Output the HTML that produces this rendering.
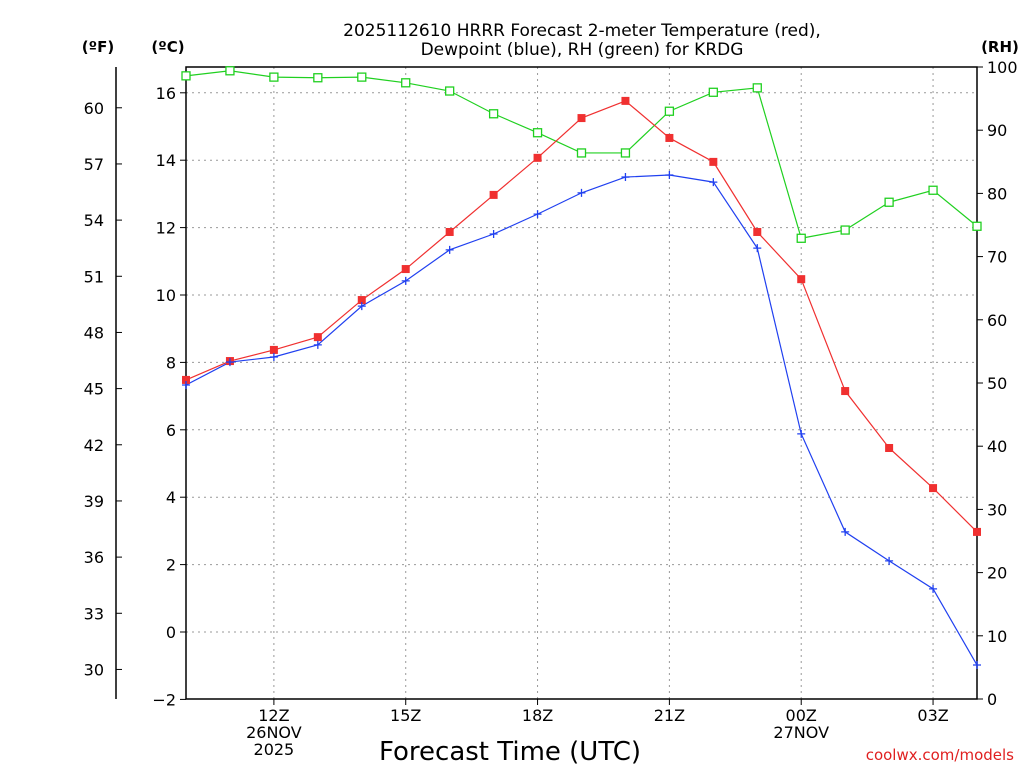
<!DOCTYPE html>
<html><head><meta charset="utf-8"><style>
body{margin:0;background:#fff;}
svg{display:block;font-family:"DejaVu Sans","Liberation Sans",sans-serif;}
</style></head><body>
<svg id="chart" width="1024" height="768">
<g id="grid"></g>
<g id="axes"></g>
<g id="series"></g>
<text x="582" y="36" text-anchor="middle" font-size="17">2025112610 HRRR Forecast 2-meter Temperature (red),</text>
<text x="582" y="55" text-anchor="middle" font-size="17">Dewpoint (blue), RH (green) for KRDG</text>
<text x="98" y="52" text-anchor="middle" font-size="15" font-weight="bold">(ºF)</text>
<text x="168" y="52" text-anchor="middle" font-size="15" font-weight="bold">(ºC)</text>
<text x="1000" y="52" text-anchor="middle" font-size="15" font-weight="bold">(RH)</text>
<text x="510" y="760" text-anchor="middle" font-size="26">Forecast Time (UTC)</text>
<text x="1014" y="760" text-anchor="end" font-size="15" fill="#e02020">coolwx.com/models</text>
</svg>
<script>
const hours=[10,11,12,13,14,15,16,17,18,19,20,21,22,23,24,25,26,27,28];
const tempC=[7.48,8.04,8.37,8.75,9.85,10.77,11.87,12.97,14.07,15.25,15.76,14.66,13.95,11.87,10.47,7.15,5.46,4.27,2.97];
const dewC=[7.33,8.01,8.16,8.52,9.67,10.42,11.34,11.81,12.40,13.03,13.50,13.56,13.35,11.39,5.88,2.97,2.11,1.28,-0.98];
const rh=[98.6,99.4,98.4,98.3,98.4,97.5,96.2,92.6,89.6,86.4,86.4,93.0,96.0,96.7,72.9,74.2,78.6,80.5,74.8];
const cTicks=[-2,0,2,4,6,8,10,12,14,16];
const fTicks=[30,33,36,39,42,45,48,51,54,57,60];
const rhTicks=[0,10,20,30,40,50,60,70,80,90,100];
const xTicks=[{h:12,l:["12Z","26NOV","2025"]},{h:15,l:["15Z"]},{h:18,l:["18Z"]},{h:21,l:["21Z"]},{h:24,l:["00Z","27NOV"]},{h:27,l:["03Z"]}];
const L=186,R=977,T=67,B=699;
const x=h=>L+(h-10)*(R-L)/18;
const yC=c=>632-c*33.7;
const yF=f=>yC((f-32)/1.8);
const yR=r=>B-r*(B-T)/100;
const NS="http://www.w3.org/2000/svg";
function mk(p,tag,a){const e=document.createElementNS(NS,tag);for(const k in a)e.setAttribute(k,a[k]);p.appendChild(e);return e;}
const grid=document.getElementById('grid'),axes=document.getElementById('axes'),ser=document.getElementById('series');
cTicks.forEach(c=>{
 if(c>-2){const g=mk(grid,'line',{x1:L,x2:R,y1:yC(c),y2:yC(c),stroke:'#999','stroke-dasharray':'2,4'});
 
 }
 mk(axes,'line',{x1:L-6,x2:L,y1:yC(c),y2:yC(c),stroke:'#000'});
 const t=mk(axes,'text',{x:L-10,y:yC(c)+6,'text-anchor':'end','font-size':16});t.textContent=c<0?'\u2212'+(-c):c;
 
 
});
xTicks.forEach(o=>{
 const g=mk(grid,'line',{x1:x(o.h),x2:x(o.h),y1:T,y2:B,stroke:'#999','stroke-dasharray':'2,4'});
 
 
 mk(axes,'line',{x1:x(o.h),x2:x(o.h),y1:B,y2:B+6,stroke:'#000'});
 o.l.forEach((s,i)=>{const t=mk(axes,'text',{x:x(o.h),y:B+22+i*17,'text-anchor':'middle','font-size':16});t.textContent=s;
 
 });
});
fTicks.forEach(f=>{
 mk(axes,'line',{x1:116,x2:122,y1:yF(f),y2:yF(f),stroke:'#000'});
 const t=mk(axes,'text',{x:104,y:yF(f)+6,'text-anchor':'end','font-size':16});t.textContent=f;
 
 
});
mk(axes,'line',{x1:116,x2:116,y1:T,y2:B,stroke:'#000','stroke-width':1.5});
rhTicks.forEach(r=>{
 mk(axes,'line',{x1:R,x2:R+6,y1:yR(r),y2:yR(r),stroke:'#000'});
 const t=mk(axes,'text',{x:R+10,y:yR(r)+6,'font-size':16});t.textContent=r;
 
 
});
mk(axes,'rect',{x:L,y:T,width:R-L,height:B-T,fill:'none',stroke:'#000','stroke-width':1.5});
function line(vals,yf,col,name){
 const p=mk(ser,'polyline',{points:vals.map((v,i)=>x(hours[i])+','+yf(v)).join(' '),fill:'none',stroke:col,'stroke-width':1.2});
 
 
}
line(rh,yR,'#20d020','rh');
line(tempC,yC,'#f03030','temperature');
line(dewC,yC,'#2040f0','dewpoint');
rh.forEach((v,i)=>{const m=mk(ser,'rect',{x:x(hours[i])-4,y:yR(v)-4,width:8,height:8,fill:'#fff',stroke:'#20d020','stroke-width':1.3});
 
 });
tempC.forEach((v,i)=>{const m=mk(ser,'rect',{x:x(hours[i])-4,y:yC(v)-4,width:8,height:8,fill:'#f03030'});
 
 });
dewC.forEach((v,i)=>{const m=mk(ser,'path',{d:`M${x(hours[i])-4},${yC(v)}h8M${x(hours[i])},${yC(v)-4}v8`,stroke:'#2040f0','stroke-width':1.3});
 
 });
</script>
</body></html>
